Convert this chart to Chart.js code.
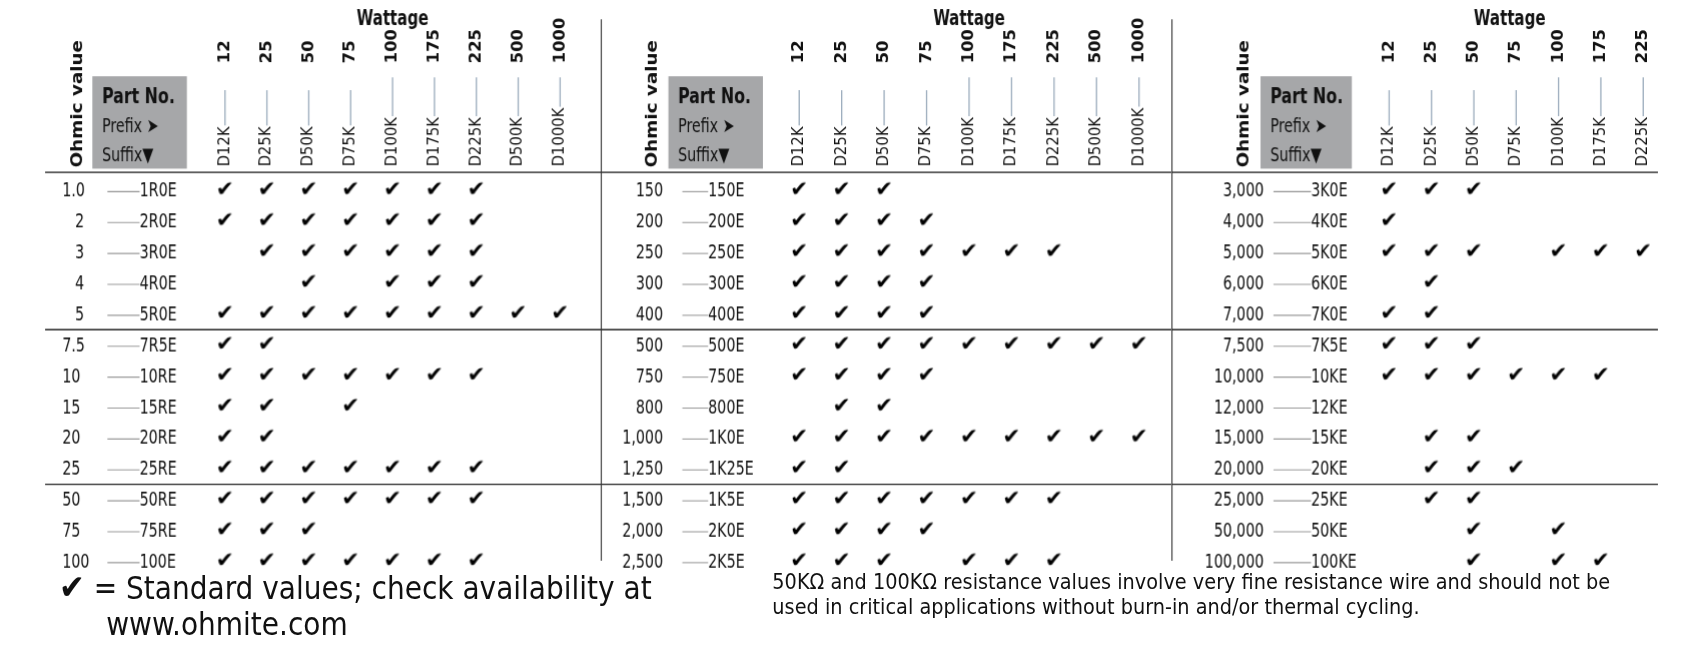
<!DOCTYPE html>
<html><head><meta charset="utf-8">
<script src="https://cdn.jsdelivr.net/npm/chart.js@4"></script>
<style>
html,body{margin:0;padding:0;background:#fff;width:1682px;height:647px;overflow:hidden;}
#W{position:absolute;left:0;top:0;width:1568px;height:603px;transform-origin:0 0;}
.p{position:absolute;top:0;height:603px;z-index:2;}
#foot1{position:absolute;left:55px;top:530px;font:29px "Liberation Sans Narrow","DejaVu Sans Condensed",sans-serif;color:#111;line-height:34px;white-space:nowrap;z-index:1;}
#foot2{position:absolute;left:720px;top:531px;font:20px "Liberation Sans Narrow","DejaVu Sans Condensed",sans-serif;color:#111;line-height:23px;white-space:nowrap;z-index:1;}
</style></head><body>
<div id="W">
<div id="foot1"><span style="font-size:32px">✔</span> = Standard values; check availability at<br><span style="padding-left:44px">www.ohmite.com</span></div>
<div id="foot2">50KΩ and 100KΩ resistance values involve very fine resistance wire and should not be<br>used in critical applications without burn-in and/or thermal cycling.</div>
<div class="p" style="left:0;width:560px"><canvas id="c0"></canvas></div>
<div class="p" style="left:560px;width:532px"><canvas id="c1"></canvas></div>
<div class="p" style="left:1092px;width:476px"><canvas id="c2"></canvas></div>
</div>
<script>
const wattage1 = ["12","25","50","75","100","175","225","500","1000"];
const wattage2 = ["12","25","50","75","100","175","225","500","1000"];
const wattage3 = ["12","25","50","75","100","175","225"];
const ohms1 = ["1.0","2","3","4","5","7.5","10","15","20","25","50","75","100"];
const suffix1 = ["1R0E","2R0E","3R0E","4R0E","5R0E","7R5E","10RE","15RE","20RE","25RE","50RE","75RE","100E"];
const ohms2 = ["150","200","250","300","400","500","750","800","1,000","1,250","1,500","2,000","2,500"];
const suffix2 = ["150E","200E","250E","300E","400E","500E","750E","800E","1K0E","1K25E","1K5E","2K0E","2K5E"];
const ohms3 = ["3,000","4,000","5,000","6,000","7,000","7,500","10,000","12,000","15,000","20,000","25,000","50,000","100,000"];
const suffix3 = ["3K0E","4K0E","5K0E","6K0E","7K0E","7K5E","10KE","12KE","15KE","20KE","25KE","50KE","100KE"];
const checks1 = [
 [1,1,1,1,1,1,1,0,0],[1,1,1,1,1,1,1,0,0],[0,1,1,1,1,1,1,0,0],[0,0,1,0,1,1,1,0,0],[1,1,1,1,1,1,1,1,1],
 [1,1,0,0,0,0,0,0,0],[1,1,1,1,1,1,1,0,0],[1,1,0,1,0,0,0,0,0],[1,1,0,0,0,0,0,0,0],[1,1,1,1,1,1,1,0,0],
 [1,1,1,1,1,1,1,0,0],[1,1,1,0,0,0,0,0,0],[1,1,1,1,1,1,1,0,0]];
const checks2 = [
 [1,1,1,0,0,0,0,0,0],[1,1,1,1,0,0,0,0,0],[1,1,1,1,1,1,1,0,0],[1,1,1,1,0,0,0,0,0],[1,1,1,1,0,0,0,0,0],
 [1,1,1,1,1,1,1,1,1],[1,1,1,1,0,0,0,0,0],[0,1,1,0,0,0,0,0,0],[1,1,1,1,1,1,1,1,1],[1,1,0,0,0,0,0,0,0],
 [1,1,1,1,1,1,1,0,0],[1,1,1,1,0,0,0,0,0],[1,1,1,0,1,1,1,0,0]];
const checks3 = [
 [1,1,1,0,0,0,0],[1,0,0,0,0,0,0],[1,1,1,0,1,1,1],[0,1,0,0,0,0,0],[1,1,0,0,0,0,0],
 [1,1,1,0,0,0,0],[1,1,1,1,1,1,0],[0,0,0,0,0,0,0],[0,1,1,0,0,0,0],[0,1,1,1,0,0,0],
 [0,1,1,0,0,0,0],[0,0,1,0,1,0,0],[0,0,1,0,1,1,0]];

const K = 1682/1568;
document.getElementById('W').style.transform='scale('+K+')';
const FN = '"Liberation Sans Narrow","DejaVu Sans Condensed",sans-serif';
const SX = 0.82;
function txt(g,s,x,y,align){
  g.save();g.translate(x,y);g.scale(SX,1);g.textAlign=align||'left';g.fillText(s,0,0);g.restore();
}
function checkImg(){
  const c=document.createElement('canvas');c.width=26;c.height=26;
  const g=c.getContext('2d');g.fillStyle='#000';g.font='bold 20px "DejaVu Sans",sans-serif';
  g.textAlign='center';g.textBaseline='middle';g.fillText('✔',13,13);return c;
}
const CHK=checkImg();

const panels=[
 {id:'c0',w:560,watt:wattage1,ohms:ohms1,suf:suffix1,chk:checks1,pad:{left:190,right:19,top:163,bottom:37},
  ohmX:58,ohmRightAlign:false,lineL:100,lineR:130,box:[86,71,88,86],ohmicX:72,sepL:42,sepR:560,vline:false},
 {id:'c1',w:532,watt:wattage2,ohms:ohms2,suf:suffix2,chk:checks2,pad:{left:165,right:10,top:163,bottom:37},
  ohmX:58,ohmRightAlign:true,lineL:76,lineR:100,box:[63,71,88,86],ohmicX:48,sepL:0,sepR:532,vline:true},
 {id:'c2',w:476,watt:wattage3,ohms:ohms3,suf:suffix3,chk:checks3,pad:{left:183,right:17,top:163,bottom:37},
  ohmX:86,ohmRightAlign:true,lineL:95,lineR:130,box:[83,71,85,86],ohmicX:68,sepL:0,sepR:453,vline:true}
];

panels.forEach(P=>{
  const cv=document.getElementById(P.id);
  cv.style.width=P.w+'px';cv.style.height='603px';
  const pts=[];
  P.chk.forEach((row,r)=>row.forEach((v,c)=>{if(v)pts.push({x:c,y:r});}));
  const deco={id:'deco',afterDraw(ch){
    const g=ch.ctx, xs=ch.scales.x, ys=ch.scales.y, a=ch.chartArea;
    g.save();
    P.ohms.forEach((o,r)=>{
      const y=ys.getPixelForValue(r)+1;
      g.fillStyle='#111';g.font='18px '+FN;g.textBaseline='middle';
      if(P.ohmRightAlign){txt(g,o,P.ohmX,y,'right');}
      else{txt(g,o,o.length===1?P.ohmX+12:P.ohmX,y,'left');}
      g.strokeStyle='#999';g.lineWidth=1;g.beginPath();g.moveTo(P.lineL,y);g.lineTo(P.lineR,y);g.stroke();
      txt(g,P.suf[r],P.lineR,y,'left');
    });
    P.watt.forEach((w,c)=>{
      const x=xs.getPixelForValue(c);
      g.save();g.translate(x,0);g.rotate(-Math.PI/2);
      g.textBaseline='middle';g.textAlign='left';
      g.font='17px '+FN;g.fillStyle='#111';
      const pre='D'+w+'K';
      g.save();g.translate(-155,0);g.scale(0.9,SX);g.fillText(pre,0,0);g.restore();
      const pw=g.measureText(pre).width*0.9;
      g.strokeStyle='#9ab';g.lineWidth=1.2;g.beginPath();g.moveTo(-155+pw+1,0);g.lineTo(w.length>2?-72:-84,0);g.stroke();
      g.font='bold 17px '+FN;
      g.save();g.translate(-59,0);g.scale(1,SX+0.05);g.fillText(w,0,0);g.restore();
      g.restore();
    });
    g.font='bold 19px '+FN;g.fillStyle='#111';g.textBaseline='middle';
    txt(g,'Wattage',(a.left+a.right)/2+(P.watt.length===7?-6:0),18,'center');
    const b=P.box;g.fillStyle='#a6a7a9';g.fillRect(b[0],b[1],b[2],b[3]);
    g.fillStyle='#111';
    g.font='bold 20px '+FN;txt(g,'Part No.',b[0]+9,b[1]+20);
    g.font='18px '+FN;txt(g,'Prefix ➤',b[0]+9,b[1]+47);txt(g,'Suffix▼',b[0]+9,b[1]+74);
    g.save();g.translate(P.ohmicX,156);g.rotate(-Math.PI/2);g.font='bold 19px '+FN;g.textAlign='left';
    g.scale(1,SX);g.fillText('Ohmic value',0,0);g.restore();
    g.strokeStyle='#555';g.lineWidth=1.5;g.beginPath();g.moveTo(P.sepL,160.5);g.lineTo(P.sepR,160.5);g.stroke();
    g.strokeStyle='#222';g.lineWidth=1.2;
    [4.5,9.5].forEach(v=>{const y=ys.getPixelForValue(v);g.beginPath();g.moveTo(P.sepL,y);g.lineTo(P.sepR,y);g.stroke();});
    if(P.vline){g.strokeStyle='#333';g.lineWidth=1;g.beginPath();g.moveTo(0.5,18);g.lineTo(0.5,522);g.stroke();}
    g.restore();
  }};
  new Chart(cv,{
    type:'scatter',
    data:{datasets:[{data:pts,pointStyle:CHK,pointRadius:10,clip:false}]},
    options:{responsive:false,maintainAspectRatio:false,animation:false,devicePixelRatio:K,
      layout:{padding:P.pad},
      plugins:{legend:{display:false},tooltip:{enabled:false}},
      scales:{x:{type:'linear',min:-0.5,max:P.watt.length-0.5,display:false},
              y:{type:'linear',min:-0.5,max:13.5,reverse:true,display:false}}},
    plugins:[deco]
  });
});
</script>
</body></html>
